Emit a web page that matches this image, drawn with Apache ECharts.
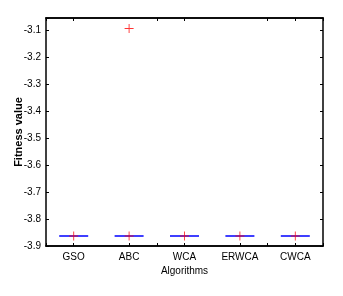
<!DOCTYPE html>
<html><head><meta charset="utf-8">
<script src="https://cdn.jsdelivr.net/npm/echarts@6/dist/echarts.min.js"></script>
<style>html,body{margin:0;padding:0;background:#fff}#c{width:343px;height:296px}</style>
</head><body><div id="c"></div>
<script>
const categories = ['GSO', 'ABC', 'WCA', 'ERWCA', 'CWCA'];
// box stats per algorithm: [min, Q1, median, Q3, max]
const boxStats = [
  [-3.8628, -3.8628, -3.8628, -3.8628, -3.8628],
  [-3.8628, -3.8628, -3.8628, -3.8628, -3.8628],
  [-3.8628, -3.8628, -3.8628, -3.8628, -3.8628],
  [-3.8628, -3.8628, -3.8628, -3.8628, -3.8628],
  [-3.8628, -3.8628, -3.8628, -3.8628, -3.8628]
];
// outlier points: [category, value]
const outliers = [
  ['GSO', -3.8628],
  ['ABC', -3.8628],
  ['ABC', -3.092],
  ['WCA', -3.8628],
  ['ERWCA', -3.8628],
  ['CWCA', -3.8628]
];
const yTicks = [-3.9, -3.8, -3.7, -3.6, -3.5, -3.4, -3.3, -3.2, -3.1];

const font = '"Liberation Sans", Arial, sans-serif';
const plus = 'path://M-0.1,-1H0.1V-0.1H1V0.1H0.1V1H-0.1V0.1H-1V-0.1H-0.1Z';
const chart = echarts.init(document.getElementById('c'));
const baseX = {type: 'category', data: categories, boundaryGap: true,
  axisLine: {show: true, lineStyle: {color: '#000', width: 1.5}},
  splitLine: {show: false}};
chart.setOption({
  animation: false,
  grid: {left: 46, right: 20, top: 18, bottom: 50},
  xAxis: [
    Object.assign({}, baseX, {position: 'bottom',
      name: 'Algorithms', nameLocation: 'middle', nameGap: 20, nameMoveOverlap: false,
      nameTextStyle: {fontFamily: font, fontSize: 10, color: '#000'},
      axisTick: {show: true, inside: true, alignWithLabel: true, length: 3, lineStyle: {color: '#000'}},
      axisLabel: {interval: 0, fontFamily: font, fontSize: 10, color: '#000', margin: 6}}),
    Object.assign({}, baseX, {position: 'bottom',
      axisTick: {show: true, inside: true, length: 3, lineStyle: {color: '#000'}},
      axisLabel: {show: false}}),
    Object.assign({}, baseX, {position: 'top',
      axisTick: {show: true, inside: true, alignWithLabel: true, length: 3, lineStyle: {color: '#000'}},
      axisLabel: {show: false}}),
    Object.assign({}, baseX, {position: 'top',
      axisTick: {show: true, inside: true, length: 3, lineStyle: {color: '#000'}},
      axisLabel: {show: false}})
  ],
  yAxis: [
    {type: 'value', min: -3.9, max: -3.053, interval: 0.1, position: 'left',
     name: 'Fitness value', nameLocation: 'middle', nameGap: 22, nameMoveOverlap: false,
     nameTextStyle: {fontFamily: font, fontSize: 11, fontWeight: 'bold', color: '#000'},
     axisLine: {show: true, lineStyle: {color: '#000', width: 1.5}},
     axisTick: {show: true, inside: true, length: 3, lineStyle: {color: '#000'}},
     splitLine: {show: false},
     axisLabel: {fontFamily: font, fontSize: 10, color: '#000', margin: 5,
       formatter: v => yTicks.some(t => Math.abs(t - v) < 1e-6) ? v.toFixed(1) : ''}},
    {type: 'value', min: -3.9, max: -3.053, interval: 0.1, position: 'right',
     axisLine: {show: true, lineStyle: {color: '#000', width: 1.5}},
     axisTick: {show: true, inside: true, length: 3, lineStyle: {color: '#000'}},
     splitLine: {show: false}, axisLabel: {show: false}}
  ],
  series: [
    {type: 'boxplot', xAxisIndex: 0, yAxisIndex: 0, data: boxStats,
     boxWidth: [29, 29],
     itemStyle: {color: '#0000ff', borderColor: '#0000ff', borderWidth: 1.5}},
    {type: 'scatter', xAxisIndex: 0, yAxisIndex: 0, data: outliers,
     symbol: plus, symbolSize: 9, itemStyle: {color: '#ff0000'}, z: 5}
  ]
});
</script></body></html>
